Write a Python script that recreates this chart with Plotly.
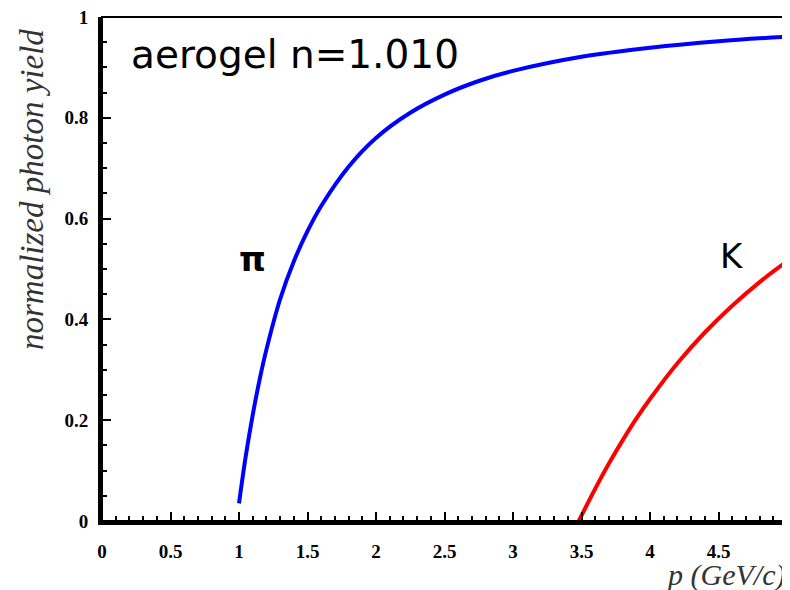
import plotly.graph_objects as go

# momentum (GeV/c) and normalized photon yield
pi_p = [1.0, 1.05, 1.1, 1.15, 1.2, 1.3, 1.4, 1.5, 1.6, 1.8, 2.0, 2.25, 2.5, 2.75, 3.0, 3.5, 4.0, 4.5, 5.0]
pi_y = [0.035, 0.13, 0.21, 0.28, 0.34, 0.44, 0.515, 0.575, 0.625, 0.703, 0.76, 0.81, 0.846, 0.873, 0.893, 0.921, 0.939, 0.952, 0.961]

k_p = [3.48, 3.6, 3.7, 3.8, 3.9, 4.0, 4.2, 4.4, 4.6, 4.8, 5.0]
k_y = [0.0, 0.064, 0.114, 0.16, 0.203, 0.242, 0.313, 0.374, 0.427, 0.474, 0.515]

x_ticks = [0, 0.5, 1, 1.5, 2, 2.5, 3, 3.5, 4, 4.5, 5]
x_ticklabels = ["0", "0.5", "1", "1.5", "2", "2.5", "3", "3.5", "4", "4.5", "5"]
y_ticks = [0, 0.2, 0.4, 0.6, 0.8, 1]
y_ticklabels = ["0", "0.2", "0.4", "0.6", "0.8", "1"]

title_text = "aerogel n=1.010"
pi_label = "π"
k_label = "K"
x_title = "p (GeV/c)"
y_title = "normalized photon yield"

fig = go.Figure()
fig.add_trace(go.Scatter(x=pi_p, y=pi_y, mode="lines", line=dict(color="#0000ff", width=4, shape="spline"),
                         showlegend=False, hoverinfo="skip"))
fig.add_trace(go.Scatter(x=k_p, y=k_y, mode="lines", line=dict(color="#ff0000", width=4, shape="spline"),
                         showlegend=False, hoverinfo="skip"))

tickfont = dict(family="Liberation Serif", size=19, color="black")

# page body has an 8px margin, so the figure is sized/placed to compensate
fig.update_layout(
    width=782, height=582,
    margin=dict(l=94, r=3, t=9, b=69, autoexpand=False),
    paper_bgcolor="white", plot_bgcolor="white",
    xaxis=dict(range=[0, 5], showgrid=False, zeroline=False, showline=True, linecolor="black", linewidth=4,
               ticks="inside", ticklen=9, tickwidth=2, tickcolor="black", automargin=False,
               tickvals=x_ticks, ticktext=["<b>%s</b>" % t for t in x_ticklabels], tickfont=tickfont,
               ticklabelstandoff=10, ticklabeloverflow="allow",
               minor=dict(dtick=0.1, ticks="inside", ticklen=5, tickwidth=2, tickcolor="black")),
    yaxis=dict(range=[0, 1], showgrid=False, zeroline=False, showline=True, linecolor="black", linewidth=4,
               ticks="inside", ticklen=9, tickwidth=2, tickcolor="black", automargin=False,
               tickvals=y_ticks, ticktext=["<b>%s</b>" % t for t in y_ticklabels], tickfont=tickfont,
               ticklabelstandoff=6, ticklabeloverflow="allow",
               minor=dict(dtick=0.05, ticks="inside", ticklen=5, tickwidth=2, tickcolor="black")),
)

# thin top/right frame
fig.add_shape(type="rect", xref="paper", yref="paper", x0=0, y0=0, x1=1, y1=1,
              line=dict(color="black", width=2), layer="above")

fig.add_annotation(x=0.2, y=0.925, xref="x", yref="y", text=title_text, showarrow=False,
                   xanchor="left", yanchor="middle", font=dict(family="DejaVu Sans", size=39, color="black"))
fig.add_annotation(x=1.095, y=0.52, xref="x", yref="y", text="<b>%s</b>" % pi_label, showarrow=False,
                   xanchor="center", yanchor="middle", font=dict(family="DejaVu Sans", size=34, color="black"))
fig.add_annotation(x=4.6, y=0.525, xref="x", yref="y", text=k_label, showarrow=False,
                   xanchor="center", yanchor="middle", font=dict(family="DejaVu Sans", size=34, color="black"))

fig.add_annotation(x=(787 - 102) / 685, y=-0.108, xref="paper", yref="paper", text="<i>%s</i>" % x_title,
                   showarrow=False, xanchor="right", yanchor="middle",
                   font=dict(family="Liberation Serif", size=30, color="#333333"))
fig.add_annotation(x=(32 - 102) / 685, y=(521 - 190) / 504, xref="paper", yref="paper", text="<i>%s</i>" % y_title,
                   showarrow=False, xanchor="center", yanchor="middle", textangle=-90,
                   font=dict(family="Liberation Serif", size=33, color="#333333"))

fig.write_html("out.html")
